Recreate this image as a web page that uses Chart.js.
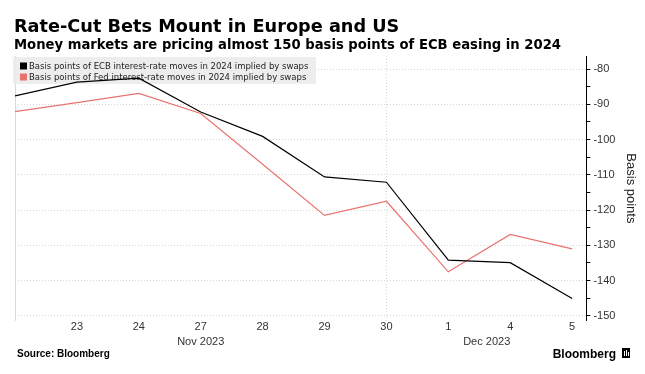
<!DOCTYPE html>
<html>
<head>
<meta charset="utf-8">
<script src="https://cdn.jsdelivr.net/npm/chart.js@4/dist/chart.umd.min.js"></script>
<style>
  html, body { margin: 0; padding: 0; background: #fff; }
  #wrap { width: 645px; height: 374px; position: relative; }
</style>
</head>
<body>
<div id="wrap"><canvas id="c" width="645" height="374"></canvas></div>
<script>
// ---- data ----
const dayLabels = ['22', '23', '24', '27', '28', '29', '30', '1', '4', '5'];
const monthLabels = ['Nov 2023', 'Dec 2023'];
const ecbValues = [-87.6, -83.7, -82.6, -92.2, -99.1, -110.6, -112.1, -134.2, -134.9, -145.1];
const fedValues = [-92.1, -89.5, -86.9, -92.6, -107.0, -121.5, -117.5, -137.5, -126.9, -131.0];
const seriesNames = [
  'Basis points of ECB interest-rate moves in 2024 implied by swaps',
  'Basis points of Fed interest-rate moves in 2024 implied by swaps'
];
const yTicks = [-80, -90, -100, -110, -120, -130, -140, -150];
const titleText = 'Rate-Cut Bets Mount in Europe and US';
const subtitleText = 'Money markets are pricing almost 150 basis points of ECB easing in 2024';
const sourceText = 'Source: Bloomberg';

const ECB_COLOR = '#000000';
const FED_COLOR = '#e8736f';
const FONT = '"Liberation Sans", Arial, sans-serif';
const HEAD_FONT = '"DejaVu Sans", Verdana, sans-serif';

const toPoints = vals => vals.map((v, i) => ({ x: i, y: v }));

const decorPlugin = {
  id: 'decor',
  beforeDraw(chart) {
    const ctx = chart.ctx;
    ctx.save();
    ctx.fillStyle = '#fff';
    ctx.fillRect(0, 0, chart.width, chart.height);
    ctx.fillStyle = '#000';
    ctx.textBaseline = 'alphabetic';
    ctx.textAlign = 'left';
    ctx.font = 'bold 17.7px ' + HEAD_FONT;
    ctx.fillText(titleText, 14, 32);
    ctx.font = 'bold 13.2px ' + HEAD_FONT;
    ctx.fillText(subtitleText, 14, 49);
    ctx.font = 'bold 10px ' + FONT;
    ctx.fillText(sourceText, 17, 357);
    ctx.font = 'bold 12px ' + FONT;
    ctx.textAlign = 'right';
    ctx.fillText('Bloomberg', 616, 358);
    // small logo mark
    ctx.fillStyle = '#000';
    ctx.fillRect(622, 348, 8, 10);
    ctx.fillStyle = '#fff';
    ctx.fillRect(624, 351, 1, 5);
    ctx.fillRect(626, 350, 1, 6);
    ctx.fillRect(628, 352, 1, 4);
    ctx.restore();
  },
  beforeDatasetsDraw(chart) {
    const ctx = chart.ctx;
    const x = chart.scales.x;
    const area = chart.chartArea;
    ctx.save();
    // left boundary line
    ctx.strokeStyle = '#d8d8d8';
    ctx.lineWidth = 1;
    ctx.beginPath();
    ctx.moveTo(Math.round(area.left) + 0.5, area.top);
    ctx.lineTo(Math.round(area.left) + 0.5, area.bottom);
    ctx.stroke();
    // month separator (dotted)
    ctx.setLineDash([1, 2]);
    const sx = Math.round(x.getPixelForValue(6)) + 0.5;
    ctx.beginPath();
    ctx.moveTo(sx, area.top);
    ctx.lineTo(sx, area.bottom);
    ctx.stroke();
    ctx.setLineDash([]);
    // legend box
    ctx.fillStyle = 'rgba(236,236,236,0.92)';
    ctx.fillRect(13, 57, 303, 27);
    ctx.font = '8.5px ' + HEAD_FONT;
    ctx.textBaseline = 'middle';
    ctx.textAlign = 'left';
    const cols = [ECB_COLOR, FED_COLOR];
    seriesNames.forEach((n, i) => {
      const ly = 66 + i * 11;
      ctx.fillStyle = cols[i];
      ctx.fillRect(20, ly - 3.5, 7, 7);
      ctx.fillStyle = '#222';
      ctx.fillText(n, 29, ly + 0.5);
    });
    // month labels
    ctx.font = '11px ' + FONT;
    ctx.fillStyle = '#333';
    ctx.textAlign = 'center';
    ctx.textBaseline = 'alphabetic';
    ctx.fillText(monthLabels[0], x.getPixelForValue(3), 345);
    ctx.fillText(monthLabels[1], x.getPixelForValue(7.62), 345);
    ctx.restore();
  }
};

new Chart(document.getElementById('c'), {
  type: 'line',
  data: {
    datasets: [
      { label: seriesNames[0], data: toPoints(ecbValues), borderColor: ECB_COLOR, borderWidth: 1.2, pointRadius: 0, tension: 0, fill: false },
      { label: seriesNames[1], data: toPoints(fedValues), borderColor: FED_COLOR, borderWidth: 1.2, pointRadius: 0, tension: 0, fill: false }
    ]
  },
  options: {
    responsive: false,
    animation: false,
    devicePixelRatio: 1,
    layout: { padding: { top: 56, left: 15, right: 7, bottom: 40 } },
    plugins: { legend: { display: false }, tooltip: { enabled: false }, title: { display: false } },
    scales: {
      x: {
        type: 'linear',
        min: 0,
        max: 9.23,
        grid: { display: false, drawTicks: false },
        border: { display: false },
        ticks: {
          stepSize: 1,
          includeBounds: false,
          autoSkip: false,
          maxRotation: 0,
          padding: 0,
          color: '#333',
          font: { family: FONT, size: 11 },
          callback: v => (Number.isInteger(v) && v > 0 && v < dayLabels.length) ? dayLabels[v] : ''
        }
      },
      y: {
        position: 'right',
        min: -151.4,
        max: -76.3,
        border: { display: true, color: '#000', width: 1, dash: [1, 2] },
        grid: {
          drawOnChartArea: true,
          color: ctx => (ctx.tick && ctx.tick.value % 10 === 0) ? '#d6d6d6' : 'rgba(0,0,0,0)',
          tickColor: '#000',
          tickLength: 4,
          tickBorderDash: [],
          lineWidth: 1
        },
        ticks: {
          stepSize: 5,
          includeBounds: false,
          autoSkip: false,
          padding: 3,
          color: '#333',
          font: { family: FONT, size: 11 },
          callback: v => yTicks.includes(v) ? String(v) : ''
        },
        title: {
          display: true,
          text: 'Basis points',
          color: '#222',
          font: { family: FONT, size: 13 },
          padding: { top: 0, bottom: 4 }
        }
      }
    }
  },
  plugins: [decorPlugin]
});
</script>
</body>
</html>
